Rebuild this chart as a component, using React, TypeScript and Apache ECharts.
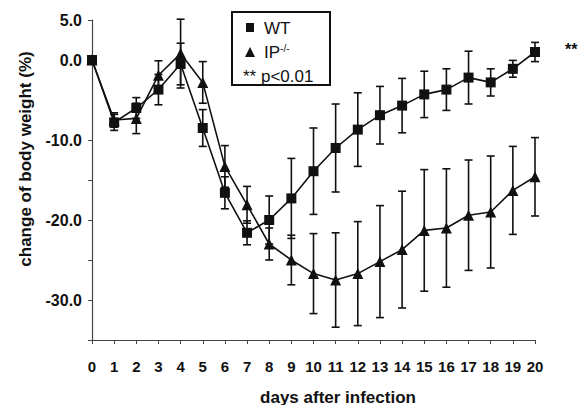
import React, { useEffect, useRef } from "react";
import * as echarts from "echarts";

const days = [0, 1, 2, 3, 4, 5, 6, 7, 8, 9, 10, 11, 12, 13, 14, 15, 16, 17, 18, 19, 20];
const wtMean = [0.0, -7.8, -6.0, -3.7, -0.5, -8.5, -16.6, -21.6, -20.0, -17.3, -13.9, -11.0, -8.7, -6.9, -5.7, -4.3, -3.7, -2.2, -2.8, -1.1, 1.0];
const wtErr = [0, 1.0, 1.3, 1.9, 2.6, 2.3, 2.0, 1.5, 3.0, 5.0, 5.4, 5.5, 4.6, 3.6, 3.4, 2.9, 2.6, 3.3, 1.7, 1.05, 1.2];
const ipMean = [0.0, -7.5, -7.3, -1.9, 0.8, -2.8, -13.3, -18.1, -23.0, -25.0, -26.7, -27.5, -26.7, -25.2, -23.7, -21.3, -21.0, -19.4, -19.0, -16.3, -14.6];
const ipErr = [0, 0.9, 1.9, 1.8, 4.3, 2.6, 2.6, 2.3, 2.0, 3.1, 5.0, 5.9, 6.5, 7.0, 7.3, 7.6, 7.4, 6.9, 7.0, 5.5, 4.9];
const yLabelValues = [5, 0, -10, -20, -30];
const yTickValues = [5, 0, -10, -15, -20, -25, -30, -35];

const FONT = "Liberation Sans, Arial, sans-serif";

function errorSeries(mean: number[], err: number[], name: string) {
  const data = days.map((d, i) => [d, mean[i] - err[i], mean[i] + err[i]]);
  return {
    type: "custom",
    name,
    data,
    z: 1,
    renderItem: (params: any, api: any) => {
      const x = api.value(0);
      const lo = api.coord([x, api.value(1)]);
      const hi = api.coord([x, api.value(2)]);
      const w = 4;
      const style = { stroke: "#111", lineWidth: 1.6 };
      return {
        type: "group",
        children: [
          { type: "line", shape: { x1: lo[0], y1: lo[1], x2: hi[0], y2: hi[1] }, style },
          { type: "line", shape: { x1: lo[0] - w, y1: lo[1], x2: lo[0] + w, y2: lo[1] }, style },
          { type: "line", shape: { x1: hi[0] - w, y1: hi[1], x2: hi[0] + w, y2: hi[1] }, style },
        ],
      };
    },
  };
}

export default function App() {
  const ref = useRef<HTMLDivElement>(null);
  useEffect(() => {
    if (!ref.current) return;
    const chart = echarts.init(ref.current, null, { renderer: "svg" });
    chart.setOption({
      animation: false,
      backgroundColor: "#fff",
      grid: { left: 92, right: 53, top: 20, bottom: 65 },
      xAxis: {
        type: "value",
        min: 0,
        max: 20,
        interval: 1,
        axisLine: { onZero: false, lineStyle: { color: "#444", width: 1.2 } },
        axisTick: { inside: false, length: 4, lineStyle: { color: "#444" } },
        axisLabel: { fontFamily: FONT, fontWeight: "bold", fontSize: 15, color: "#111", margin: 19 },
        splitLine: { show: false },
      },
      yAxis: {
        type: "value",
        min: -35,
        max: 5,
        interval: 5,
        axisLine: { lineStyle: { color: "#444", width: 1.2 } },
        axisTick: { inside: false, length: 4, lineStyle: { color: "#444" }, customValues: yTickValues },
        axisLabel: {
          fontFamily: FONT,
          fontWeight: "bold",
          fontSize: 16,
          color: "#111",
          margin: 10,
          customValues: yLabelValues,
          formatter: (v: number) => v.toFixed(1),
        },
        splitLine: { show: false },
      },
      series: [
        errorSeries(wtMean, wtErr, "wtErr"),
        errorSeries(ipMean, ipErr, "ipErr"),
        {
          type: "line",
          name: "WT",
          data: days.map((d, i) => [d, wtMean[i]]),
          symbol: "rect",
          symbolSize: 10,
          lineStyle: { color: "#111", width: 1.6 },
          itemStyle: { color: "#111" },
          z: 3,
        },
        {
          type: "line",
          name: "IP-/-",
          data: days.map((d, i) => [d, ipMean[i]]),
          symbol: "triangle",
          symbolSize: 11,
          lineStyle: { color: "#111", width: 1.6 },
          itemStyle: { color: "#111" },
          z: 3,
        },
      ],
      graphic: [
        {
          type: "text",
          x: 25,
          y: 159,
          rotation: Math.PI / 2,
          style: {
            text: "change of body weight (%)",
            font: `bold 17px ${FONT}`,
            fill: "#111",
            align: "center",
            verticalAlign: "middle",
          },
          z: 11,
        },
        {
          type: "text",
          x: 338,
          y: 397,
          style: {
            text: "days after infection",
            font: `bold 17px ${FONT}`,
            fill: "#111",
            align: "center",
            verticalAlign: "middle",
          },
          z: 11,
        },
        {
          type: "rect",
          shape: { x: 232, y: 12, width: 98, height: 73 },
          style: { fill: "#fff", stroke: "#111", lineWidth: 2 },
          z: 10,
        },
        { type: "rect", shape: { x: 246, y: 23, width: 8, height: 9 }, style: { fill: "#111" }, z: 11 },
        {
          type: "text",
          x: 264,
          y: 28,
          style: { text: "WT", font: `17px ${FONT}`, fill: "#111", verticalAlign: "middle" },
          z: 11,
        },
        { type: "polygon", shape: { points: [[250, 47], [245, 57], [255, 57]] }, style: { fill: "#111" }, z: 11 },
        {
          type: "text",
          x: 264,
          y: 52,
          style: {
            text: "IP{s|-/-}",
            font: `17px ${FONT}`,
            fill: "#111",
            verticalAlign: "middle",
            rich: { s: { fontSize: 10, fontFamily: FONT, verticalAlign: "top", padding: [0, 0, 7, 0] } },
          },
          z: 11,
        },
        {
          type: "text",
          x: 243,
          y: 76,
          style: { text: "** p<0.01", font: `17px ${FONT}`, fill: "#111", verticalAlign: "middle" },
          z: 11,
        },
        {
          type: "text",
          x: 565,
          y: 49,
          style: { text: "**", font: `bold 16px ${FONT}`, fill: "#111", verticalAlign: "middle" },
          z: 11,
        },
      ],
    });
    return () => chart.dispose();
  }, []);
  return (
    <div
      ref={ref}
      style={{ position: "fixed", left: 0, top: 0, width: 588, height: 405, background: "#fff" }}
    />
  );
}
